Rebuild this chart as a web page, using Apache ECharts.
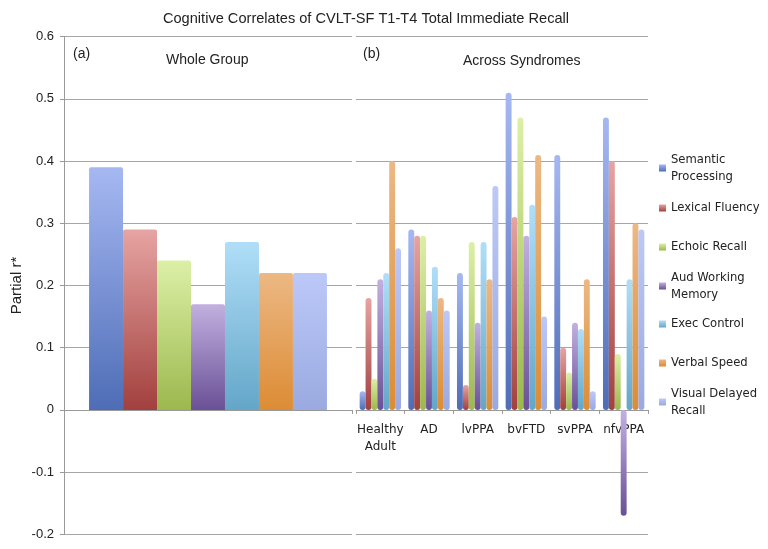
<!DOCTYPE html>
<html>
<head>
<meta charset="utf-8">
<script src="https://cdn.jsdelivr.net/npm/echarts@6/dist/echarts.min.js"></script>
<style>
html,body{margin:0;padding:0;background:#fff;}
#chart{width:768px;height:549px;}
</style>
</head>
<body>
<div id="chart"></div>
<script>
// ---- Data ----
const measures = ['Semantic Processing','Lexical Fluency','Echoic Recall','Aud Working Memory','Exec Control','Verbal Speed','Visual Delayed Recall'];
const legendLabels = ['Semantic\nProcessing','Lexical Fluency','Echoic Recall','Aud Working\nMemory','Exec Control','Verbal Speed','Visual Delayed\nRecall'];
const syndromes = ['Healthy\nAdult','AD','lvPPA','bvFTD','svPPA','nfvPPA'];
const wholeGroup = [0.39, 0.29, 0.24, 0.17, 0.27, 0.22, 0.22];
const semantic = [0.03, 0.29, 0.22, 0.51, 0.41, 0.47];
const lexical  = [0.18, 0.28, 0.04, 0.31, 0.10, 0.40];
const echoic   = [0.05, 0.28, 0.27, 0.47, 0.06, 0.09];
const audWM    = [0.21, 0.16, 0.14, 0.28, 0.14, -0.17];
const execCtl  = [0.22, 0.23, 0.27, 0.33, 0.13, 0.21];
const verbal   = [0.40, 0.18, 0.21, 0.41, 0.21, 0.30];
const visual   = [0.26, 0.16, 0.36, 0.15, 0.03, 0.29];
const yTicks = [-0.2, -0.1, 0, 0.1, 0.2, 0.3, 0.4, 0.5, 0.6];

const syndromeSeries = [semantic, lexical, echoic, audWM, execCtl, verbal, visual];
const topColors = ['#a6b8f2','#e6a4a2','#dcf0a6','#c2b0e0','#b0def8','#ecb884','#bcc8f8'];
const botColors = ['#4e6db6','#a2403e','#9cb84e','#6a5096','#64a6c8','#dc8c34','#9aaae0'];
const legendCenters = [168, 208, 247, 286, 324, 363, 402];

function grad(i){
  return new echarts.graphic.LinearGradient(0,0,0,1,[
    {offset:0,color:topColors[i]},{offset:1,color:botColors[i]}]);
}

const FONT_A = '"Liberation Sans", Arial, sans-serif';
const FONT_B = '"DejaVu Sans", sans-serif';
const gridColor = '#a6a6a6';

// layout of the two plot panels
const GRID_TOP = 36.7, GRID_BOTTOM = 14.7, CHART_H = 549;
const yMin = yTicks[0], yMax = yTicks[yTicks.length-1];
const plotH = CHART_H - GRID_TOP - GRID_BOTTOM;
const zeroOffset = -plotH * (0 - yMin) / (yMax - yMin); // move category axis up to value 0

const series = [];
measures.forEach((m,i)=>{
  series.push({
    name:m, type:'bar', xAxisIndex:0, yAxisIndex:0,
    data:[wholeGroup[i]],
    barGap:'0%', barCategoryGap:'17.4%',
    itemStyle:{color:grad(i), borderRadius:[2,2,0,0]},
    emphasis:{disabled:true}
  });
});
measures.forEach((m,i)=>{
  series.push({
    name:m, type:'bar', xAxisIndex:1, yAxisIndex:1,
    data:syndromeSeries[i],
    barGap:'0%', barCategoryGap:'15%',
    itemStyle:{color:grad(i), borderRadius:3},
    emphasis:{disabled:true}
  });
});

const legends = measures.map((m,i)=>{
  const twoLine = legendLabels[i].indexOf('\n')>=0;
  return {
    data:[{name:m, icon:'rect'}],
    orient:'vertical', left:659,
    top: twoLine ? legendCenters[i]-25.5 : legendCenters[i]-8.5,
    padding:0, itemWidth:7, itemHeight:7, itemGap:0,
    selectedMode:false,
    formatter: ()=>legendLabels[i],
    textStyle:{fontFamily:FONT_B, fontSize:11.6, color:'#222', lineHeight:17,
      padding: twoLine ? [17,0,0,0] : 0}
  };
});

const yAxisCommon = {
  type:'value', min:yMin, max:yMax, interval:0.1,
  splitLine:{show:true, lineStyle:{color:gridColor, width:1}}
};

const option = {
  animation:false,
  title:{
    text:'Cognitive Correlates of CVLT-SF T1-T4 Total Immediate Recall',
    left:366, top:6, textAlign:'center',
    textStyle:{fontFamily:FONT_A, fontSize:14.6, fontWeight:'normal', color:'#222'}
  },
  legend:legends,
  grid:[
    {left:64, right:416, top:GRID_TOP, bottom:GRID_BOTTOM, containLabel:false, outerBoundsMode:'none'},
    {left:356, right:120, top:GRID_TOP, bottom:GRID_BOTTOM, containLabel:false, outerBoundsMode:'none'}
  ],
  xAxis:[
    {type:'category', gridIndex:0, data:['Whole Group'], position:'bottom', offset:zeroOffset,
      axisLine:{onZero:false, lineStyle:{color:'#999'}},
      axisTick:{show:true, length:4, lineStyle:{color:'#999'}},
      axisLabel:{show:false}},
    {type:'category', gridIndex:1, data:syndromes, position:'bottom', offset:zeroOffset,
      axisLine:{onZero:false, lineStyle:{color:'#999'}},
      axisTick:{show:true, length:4, lineStyle:{color:'#999'}},
      axisLabel:{fontFamily:FONT_B, fontSize:12, color:'#222', lineHeight:17, margin:11, interval:0}}
  ],
  yAxis:[
    Object.assign({}, yAxisCommon, {gridIndex:0,
      name:'Partial r*', nameLocation:'middle', nameGap:40,
      nameTextStyle:{fontFamily:FONT_A, fontSize:15, color:'#222'},
      axisLine:{show:true, lineStyle:{color:'#999'}},
      axisTick:{show:true, length:4, lineStyle:{color:'#999'}},
      axisLabel:{fontFamily:FONT_A, fontSize:13, color:'#222', margin:10,
        formatter:(v)=>{ const r=Math.round(v*10)/10; return r===0?'0':String(r);} }}),
    Object.assign({}, yAxisCommon, {gridIndex:1,
      axisLine:{show:false}, axisTick:{show:false}, axisLabel:{show:false}})
  ],
  graphic:[
    {type:'text', left:73, top:47, style:{text:'(a)', font:'14px '+FONT_A, fill:'#222'}},
    {type:'text', left:166, top:53, style:{text:'Whole Group', font:'14px '+FONT_A, fill:'#222'}},
    {type:'text', left:363, top:47, style:{text:'(b)', font:'14px '+FONT_A, fill:'#222'}},
    {type:'text', left:463, top:54, style:{text:'Across Syndromes', font:'14px '+FONT_A, fill:'#222'}}
  ],
  series:series
};
option.title.left = 361;

const chart = echarts.init(document.getElementById('chart'), null, {renderer:'canvas'});
chart.setOption(option);
</script>
</body>
</html>
